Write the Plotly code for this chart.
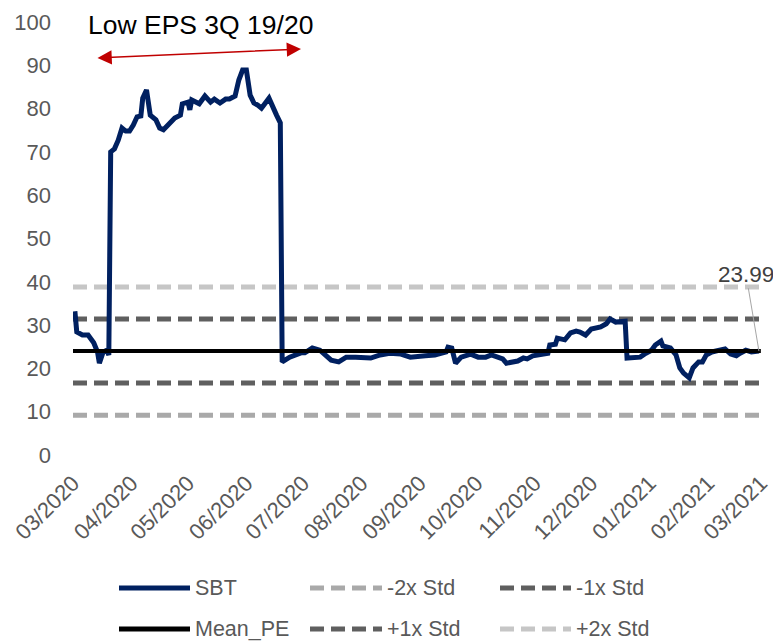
import plotly.graph_objects as go

# ---------------- data ----------------
dates = [
    "2020-03-02", "2020-03-03", "2020-03-06", "2020-03-09", "2020-03-12", "2020-03-14", "2020-03-15", "2020-03-17", "2020-03-19", "2020-03-20",
    "2020-03-21", "2020-03-23", "2020-03-25", "2020-03-27", "2020-03-29", "2020-03-31", "2020-04-02", "2020-04-04", "2020-04-06", "2020-04-07",
    "2020-04-09", "2020-04-11", "2020-04-14", "2020-04-16", "2020-04-18", "2020-04-22", "2020-04-24", "2020-04-27", "2020-04-28", "2020-05-01",
    "2020-05-02", "2020-05-03", "2020-05-06", "2020-05-07", "2020-05-10", "2020-05-13", "2020-05-15", "2020-05-18", "2020-05-21", "2020-05-23",
    "2020-05-26", "2020-05-28", "2020-05-30", "2020-06-01", "2020-06-03", "2020-06-05", "2020-06-07", "2020-06-09", "2020-06-13", "2020-06-15",
    "2020-06-17", "2020-06-19", "2020-06-20", "2020-06-24", "2020-06-30", "2020-07-02", "2020-07-06", "2020-07-10", "2020-07-16", "2020-07-20",
    "2020-07-24", "2020-07-29", "2020-08-06", "2020-08-11", "2020-08-16", "2020-08-22", "2020-08-27", "2020-09-04", "2020-09-09", "2020-09-15",
    "2020-09-16", "2020-09-18", "2020-09-20", "2020-09-23", "2020-09-25", "2020-09-28", "2020-10-02", "2020-10-06", "2020-10-09", "2020-10-12",
    "2020-10-15", "2020-10-17", "2020-10-20", "2020-10-23", "2020-10-26", "2020-10-28", "2020-10-31", "2020-11-03", "2020-11-07", "2020-11-08",
    "2020-11-09", "2020-11-12", "2020-11-13", "2020-11-16", "2020-11-17", "2020-11-20", "2020-11-23", "2020-11-25", "2020-11-28", "2020-12-01",
    "2020-12-03", "2020-12-06", "2020-12-09", "2020-12-11", "2020-12-14", "2020-12-17", "2020-12-19", "2020-12-20", "2020-12-25", "2020-12-27",
    "2020-12-30", "2021-01-02", "2021-01-04", "2021-01-07", "2021-01-08", "2021-01-12", "2021-01-15", "2021-01-17", "2021-01-19", "2021-01-22",
    "2021-01-24", "2021-01-27", "2021-01-29", "2021-01-31", "2021-02-03", "2021-02-08", "2021-02-10", "2021-02-13", "2021-02-16", "2021-02-18",
    "2021-02-21", "2021-02-24", "2021-02-28",
]

sbt_pe = [
    33.2, 28.4, 27.7, 27.7, 25.9, 23.8, 21.2, 23.8, 24.2, 23.1,
    70.0, 70.7, 72.7, 75.5, 74.8, 74.8, 76.2, 78.1, 78.3, 82.4,
    84.3, 78.5, 77.4, 75.5, 75.1, 76.9, 77.8, 78.5, 81.1, 81.5,
    79.7, 82.0, 81.1, 81.1, 82.9, 81.5, 82.2, 81.3, 82.2, 82.2,
    82.9, 86.6, 88.9, 88.9, 83.1, 81.3, 80.8, 80.1, 82.4, 80.1,
    78.5, 76.7, 21.5, 22.6, 23.6, 23.6, 24.7, 24.2, 21.9, 21.5,
    22.6, 22.6, 22.4, 23.1, 23.5, 23.3, 22.6, 22.9, 23.1, 23.8,
    24.9, 24.7, 21.2, 22.6, 22.9, 23.3, 22.6, 22.6, 23.1, 22.6,
    22.2, 21.2, 21.5, 21.7, 22.4, 22.2, 22.9, 23.1, 23.3, 23.5,
    25.4, 25.6, 27.0, 26.8, 26.6, 28.2, 28.6, 28.4, 27.7, 29.1,
    29.3, 29.6, 30.3, 31.4, 30.7, 30.9, 30.9, 22.4, 22.4, 22.6,
    23.5, 24.2, 25.4, 26.3, 25.2, 24.7, 23.1, 20.1, 18.9, 17.8,
    20.1, 21.5, 21.5, 23.1, 23.8, 24.2, 24.5, 23.3, 22.9, 23.5,
    24.2, 23.8, 23.99,
]

band_dates = ["2020-03-01", "2021-03-01"]
mean_pe = 23.99
plus1_std = 31.4
plus2_std = 38.8
minus1_std = 16.6
minus2_std = 9.2

y_ticks = [0, 10, 20, 30, 40, 50, 60, 70, 80, 90, 100]

# ---------------- styling ----------------
NAVY = "#002060"
DARK = "#5F5F5F"
LIGHT_M2 = "#A9A9A9"
LIGHT_P2 = "#C6C6C6"
TXT = "#595959"
FONT = "Liberation Sans, Arial, sans-serif"
DASH = "14px,7px"

# the page body adds an 8px offset, so the figure is 8px smaller
OFF = 8
W, H = 781 - OFF, 642 - OFF
# plot area in reference-picture pixels: x 73..761, y 22..455
PX0, PX1, PY0, PY1 = 73, 761, 22, 455
L, R, T, B = PX0 - OFF, W - (PX1 - OFF), PY0 - OFF, H - (PY1 - OFF)
PW, PH = PX1 - PX0, PY1 - PY0


def px_x(px):
    return (px - PX0) / PW


def px_y(py):
    return (PY1 - py) / PH


fig = go.Figure()

bands = [
    ("-2x Std", minus2_std, LIGHT_M2),
    ("-1x Std", minus1_std, DARK),
    ("+1x Std", plus1_std, DARK),
    ("+2x Std", plus2_std, LIGHT_P2),
]
for name, lvl, col in bands:
    fig.add_trace(go.Scatter(
        x=band_dates, y=[lvl, lvl], mode="lines", name=name,
        line=dict(color=col, width=5, dash=DASH), showlegend=False,
        hoverinfo="skip",
    ))

fig.add_trace(go.Scatter(
    x=dates, y=sbt_pe, mode="lines", name="SBT",
    line=dict(color=NAVY, width=5), showlegend=False,
))
fig.add_trace(go.Scatter(
    x=band_dates, y=[mean_pe, mean_pe], mode="lines", name="Mean_PE",
    line=dict(color="black", width=4), showlegend=False,
))

annotations = [
    dict(text="Low EPS 3Q 19/20", xref="paper", yref="paper",
         x=px_x(200), y=px_y(25), xanchor="center", yanchor="middle",
         showarrow=False, font=dict(size=26.5, color="black", family=FONT)),
    dict(text="", xref="paper", yref="paper", x=px_x(301), y=px_y(49),
         ax=-205, ay=9, showarrow=True, arrowside="end+start",
         arrowhead=2, startarrowhead=2, arrowsize=1.9, startarrowsize=1.9,
         arrowwidth=1.5, arrowcolor="#C00000"),
    dict(text=f"{sbt_pe[-1]:.2f}", xref="x", yref="y", x=dates[-1], y=sbt_pe[-1],
         ax=-13, ay=-77, showarrow=True, arrowhead=0, arrowwidth=1,
         arrowcolor="#A6A6A6", font=dict(size=22.5, color="#404040", family=FONT)),
]

# manual legend (long line samples like the original)
legend_items = [
    ("SBT", NAVY, "solid", 5, 119, 190, 588),
    ("-2x Std", LIGHT_M2, DASH, 5, 310, 382, 588),
    ("-1x Std", DARK, DASH, 5, 500, 571, 588),
    ("Mean_PE", "black", "solid", 5, 119, 190, 629),
    ("+1x Std", DARK, DASH, 5, 310, 382, 629),
    ("+2x Std", LIGHT_P2, DASH, 5, 500, 571, 629),
]
shapes = []
for label, col, dash, wid, x0, x1, yy in legend_items:
    shapes.append(dict(type="line", xref="paper", yref="paper",
                       x0=px_x(x0), x1=px_x(x1), y0=px_y(yy), y1=px_y(yy),
                       line=dict(color=col, width=wid, dash=dash)))
    annotations.append(dict(text=label, xref="paper", yref="paper",
                            x=px_x(x1 + 3), y=px_y(yy), xanchor="left", yanchor="middle",
                            showarrow=False, font=dict(size=21.5, color=TXT, family=FONT)))

fig.update_layout(
    width=W, height=H,
    margin=dict(l=L, r=R, t=T, b=B, autoexpand=False),
    paper_bgcolor="white", plot_bgcolor="white",
    font=dict(family=FONT, color=TXT),
    showlegend=False,
    annotations=annotations,
    shapes=shapes,
    xaxis=dict(
        type="date", range=["2020-03-01", "2021-03-01 02:00"],
        tickmode="linear", tick0="2020-03-01", dtick="M1",
        tickformat="%m/%Y", tickangle=-45,
        tickfont=dict(size=22, color=TXT, family=FONT),
        showgrid=False, zeroline=False, showline=False, ticks="",
        ticklabelstandoff=10, automargin=False,
    ),
    yaxis=dict(
        range=[0, 100], tickmode="array", tickvals=y_ticks,
        tickfont=dict(size=22, color=TXT, family=FONT),
        showgrid=False, zeroline=False, showline=False, ticks="",
        ticklabelstandoff=21, automargin=False,
    ),
)

fig.write_html("out.html")
